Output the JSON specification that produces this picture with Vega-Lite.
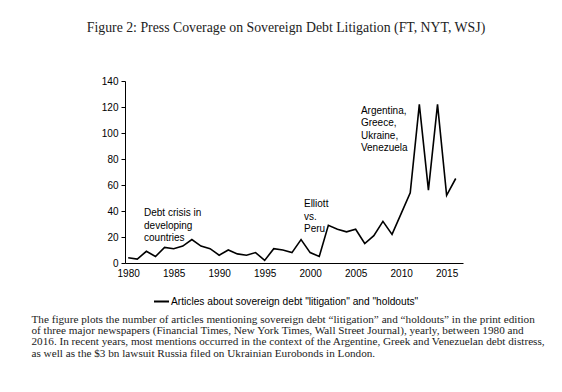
{
  "$schema": "https://vega.github.io/schema/vega-lite/v6.json",
  "autosize": "none",
  "width": 338,
  "height": 182,
  "padding": {"left": 125, "top": 81, "right": 99, "bottom": 129},
  "background": "white",
  "config": {
    "view": {"stroke": null},
    "font": "Liberation Sans"
  },
  "title": {
    "text": "Figure 2: Press Coverage on Sovereign Debt Litigation (FT, NYT, WSJ)",
    "font": "Liberation Serif",
    "fontSize": 13.8,
    "fontWeight": "normal",
    "color": "#222",
    "anchor": "middle",
    "dx": -8,
    "offset": 41
  },
  "datasets": {
    "articles": [
      {"year": 1980, "count": 4, "series": "Articles about sovereign debt \"litigation\" and \"holdouts\""},
      {"year": 1981, "count": 3, "series": "Articles about sovereign debt \"litigation\" and \"holdouts\""},
      {"year": 1982, "count": 9, "series": "Articles about sovereign debt \"litigation\" and \"holdouts\""},
      {"year": 1983, "count": 5, "series": "Articles about sovereign debt \"litigation\" and \"holdouts\""},
      {"year": 1984, "count": 12, "series": "Articles about sovereign debt \"litigation\" and \"holdouts\""},
      {"year": 1985, "count": 11, "series": "Articles about sovereign debt \"litigation\" and \"holdouts\""},
      {"year": 1986, "count": 13, "series": "Articles about sovereign debt \"litigation\" and \"holdouts\""},
      {"year": 1987, "count": 18, "series": "Articles about sovereign debt \"litigation\" and \"holdouts\""},
      {"year": 1988, "count": 13, "series": "Articles about sovereign debt \"litigation\" and \"holdouts\""},
      {"year": 1989, "count": 11, "series": "Articles about sovereign debt \"litigation\" and \"holdouts\""},
      {"year": 1990, "count": 6, "series": "Articles about sovereign debt \"litigation\" and \"holdouts\""},
      {"year": 1991, "count": 10, "series": "Articles about sovereign debt \"litigation\" and \"holdouts\""},
      {"year": 1992, "count": 7, "series": "Articles about sovereign debt \"litigation\" and \"holdouts\""},
      {"year": 1993, "count": 6, "series": "Articles about sovereign debt \"litigation\" and \"holdouts\""},
      {"year": 1994, "count": 8, "series": "Articles about sovereign debt \"litigation\" and \"holdouts\""},
      {"year": 1995, "count": 2, "series": "Articles about sovereign debt \"litigation\" and \"holdouts\""},
      {"year": 1996, "count": 11, "series": "Articles about sovereign debt \"litigation\" and \"holdouts\""},
      {"year": 1997, "count": 10, "series": "Articles about sovereign debt \"litigation\" and \"holdouts\""},
      {"year": 1998, "count": 8, "series": "Articles about sovereign debt \"litigation\" and \"holdouts\""},
      {"year": 1999, "count": 18, "series": "Articles about sovereign debt \"litigation\" and \"holdouts\""},
      {"year": 2000, "count": 8, "series": "Articles about sovereign debt \"litigation\" and \"holdouts\""},
      {"year": 2001, "count": 5, "series": "Articles about sovereign debt \"litigation\" and \"holdouts\""},
      {"year": 2002, "count": 29, "series": "Articles about sovereign debt \"litigation\" and \"holdouts\""},
      {"year": 2003, "count": 26, "series": "Articles about sovereign debt \"litigation\" and \"holdouts\""},
      {"year": 2004, "count": 24, "series": "Articles about sovereign debt \"litigation\" and \"holdouts\""},
      {"year": 2005, "count": 26, "series": "Articles about sovereign debt \"litigation\" and \"holdouts\""},
      {"year": 2006, "count": 15, "series": "Articles about sovereign debt \"litigation\" and \"holdouts\""},
      {"year": 2007, "count": 21, "series": "Articles about sovereign debt \"litigation\" and \"holdouts\""},
      {"year": 2008, "count": 32, "series": "Articles about sovereign debt \"litigation\" and \"holdouts\""},
      {"year": 2009, "count": 22, "series": "Articles about sovereign debt \"litigation\" and \"holdouts\""},
      {"year": 2010, "count": 38, "series": "Articles about sovereign debt \"litigation\" and \"holdouts\""},
      {"year": 2011, "count": 54, "series": "Articles about sovereign debt \"litigation\" and \"holdouts\""},
      {"year": 2012, "count": 122, "series": "Articles about sovereign debt \"litigation\" and \"holdouts\""},
      {"year": 2013, "count": 56, "series": "Articles about sovereign debt \"litigation\" and \"holdouts\""},
      {"year": 2014, "count": 122, "series": "Articles about sovereign debt \"litigation\" and \"holdouts\""},
      {"year": 2015, "count": 52, "series": "Articles about sovereign debt \"litigation\" and \"holdouts\""},
      {"year": 2016, "count": 65, "series": "Articles about sovereign debt \"litigation\" and \"holdouts\""}
    ],
    "notes": [
      {"year": 1981.74, "count": 42.3, "label": ["Debt crisis in", "developing", "countries"]},
      {"year": 1999.32, "count": 49.2, "label": ["Elliott", "vs.", "Peru"]},
      {"year": 2005.58, "count": 120.8, "label": ["Argentina,", "Greece,", "Ukraine,", "Venezuela"]}
    ]
  },
  "encoding": {
    "x": {
      "field": "year",
      "type": "quantitative",
      "scale": {"domain": [1979.65, 2016.8], "nice": false, "zero": false},
      "axis": {
        "values": [1980, 1985, 1990, 1995, 2000, 2005, 2010, 2015],
        "format": "d",
        "grid": false,
        "ticks": false,
        "domainColor": "black",
        "domainWidth": 1,
        "labelFont": "Liberation Sans",
        "labelFontSize": 10,
        "labelColor": "black",
        "labelPadding": 5,
        "labelFlush": false,
        "labelOverlap": false,
        "title": [
          "The figure plots the number of articles mentioning sovereign debt “litigation” and “holdouts” in the print edition",
          "of three major newspapers (Financial Times, New York Times, Wall Street Journal), yearly, between 1980 and",
          "2016. In recent years, most mentions occurred in the context of the Argentine, Greek and Venezuelan debt distress,",
          "as well as the $3 bn lawsuit Russia filed on Ukrainian Eurobonds in London."
        ],
        "titleFont": "Liberation Serif",
        "titleFontSize": 11.2,
        "titleFontWeight": "normal",
        "titleColor": "#222",
        "titleAlign": "left",
        "titleAnchor": "start",
        "titleBaseline": "top",
        "titleLineHeight": 11.4,
        "titleX": -94,
        "titleY": 50
      }
    },
    "y": {
      "field": "count",
      "type": "quantitative",
      "scale": {"domain": [0, 140], "nice": false},
      "axis": {
        "values": [0, 20, 40, 60, 80, 100, 120, 140],
        "grid": false,
        "tickSize": 4,
        "tickColor": "black",
        "domainColor": "black",
        "labelFont": "Liberation Sans",
        "labelFontSize": 10,
        "labelColor": "black",
        "labelPadding": 3,
        "labelOverlap": false,
        "labelFlush": false,
        "title": null
      }
    }
  },
  "layer": [
    {
      "data": {"name": "articles"},
      "mark": {"type": "line", "strokeWidth": 1.6, "clip": false},
      "encoding": {
        "color": {
          "field": "series",
          "type": "nominal",
          "scale": {"range": ["black"]},
          "legend": {
            "title": null,
            "orient": "none",
            "legendX": 28,
            "legendY": 212,
            "symbolType": "stroke",
            "symbolSize": 225,
            "symbolStrokeWidth": 2,
            "labelFont": "Liberation Sans",
            "labelFontSize": 10.2,
            "labelColor": "black",
            "labelOffset": 1,
            "labelLimit": 400
          }
        }
      }
    },
    {
      "data": {"name": "notes"},
      "mark": {
        "type": "text",
        "align": "left",
        "baseline": "top",
        "font": "Liberation Sans",
        "fontSize": 10,
        "lineHeight": 12.5,
        "color": "black"
      },
      "encoding": {
        "text": {"field": "label"}
      }
    }
  ]
}
